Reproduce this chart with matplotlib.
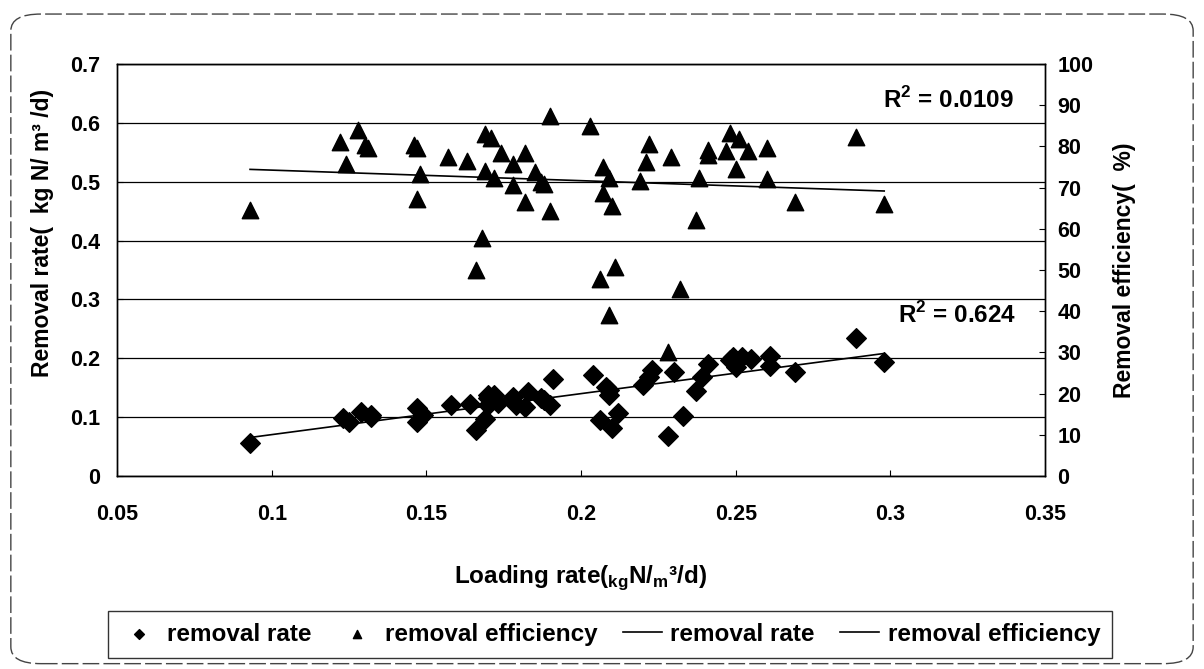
import matplotlib
matplotlib.use("Agg")
import matplotlib.pyplot as plt
from matplotlib.patches import FancyBboxPatch
import numpy as np

plt.rcParams['font.family'] = ['Liberation Sans', 'DejaVu Sans']
plt.rcParams['font.weight'] = 'bold'
plt.rcParams['axes.labelweight'] = 'bold'
plt.rcParams['mathtext.fontset'] = 'custom'
plt.rcParams['mathtext.rm'] = 'Liberation Sans:bold'

# removal rate (kg N/m3/d) vs loading rate
rate_x = [0.093, 0.123, 0.125, 0.129, 0.132, 0.132, 0.147, 0.147, 0.149, 0.158,
          0.164, 0.166, 0.169, 0.170, 0.170, 0.170, 0.172, 0.173, 0.178, 0.179,
          0.182, 0.183, 0.187, 0.188, 0.190, 0.191, 0.204, 0.208, 0.209, 0.209,
          0.206, 0.210, 0.212, 0.220, 0.222, 0.223, 0.230, 0.228, 0.233, 0.237,
          0.239, 0.241, 0.248, 0.249, 0.252, 0.250, 0.255, 0.261, 0.261, 0.269,
          0.289, 0.298]
rate_y = [0.056, 0.098, 0.091, 0.108, 0.101, 0.104, 0.115, 0.092, 0.104, 0.121,
          0.122, 0.078, 0.096, 0.138, 0.121, 0.132, 0.138, 0.124, 0.135, 0.121,
          0.118, 0.143, 0.132, 0.129, 0.121, 0.164, 0.172, 0.152, 0.138, 0.146,
          0.095, 0.081, 0.107, 0.155, 0.169, 0.180, 0.177, 0.068, 0.102, 0.145,
          0.169, 0.191, 0.197, 0.202, 0.202, 0.185, 0.198, 0.204, 0.187, 0.177,
          0.234, 0.194]

# removal efficiency (%) vs loading rate
eff_x = [0.093, 0.122, 0.124, 0.128, 0.130, 0.131, 0.146, 0.147, 0.148, 0.147,
         0.157, 0.163, 0.169, 0.169, 0.168, 0.166, 0.171, 0.172, 0.174, 0.178,
         0.182, 0.178, 0.185, 0.187, 0.188, 0.182, 0.190, 0.190, 0.203, 0.207,
         0.209, 0.207, 0.210, 0.222, 0.221, 0.219, 0.229, 0.237, 0.241, 0.241,
         0.238, 0.248, 0.251, 0.247, 0.254, 0.260, 0.250, 0.260, 0.269, 0.289,
         0.298, 0.211, 0.206, 0.232, 0.209, 0.228]
eff_y = [64.6, 81.1, 75.7, 84.1, 80.3, 79.6, 80.3, 79.5, 73.3, 67.2,
         77.5, 76.5, 83.0, 74.1, 57.7, 50.0, 82.0, 72.3, 78.3, 75.7,
         78.3, 70.6, 73.9, 71.4, 70.9, 66.6, 64.4, 87.4, 85.0, 75.1,
         72.3, 68.6, 65.5, 80.7, 76.3, 71.7, 77.4, 62.1, 79.1, 77.9,
         72.3, 83.3, 81.7, 79.0, 79.0, 79.5, 74.4, 72.0, 66.6, 82.4,
         66.0, 50.8, 47.7, 45.5, 39.1, 30.2]

r2_labels = ["R$^2$ = 0.624", "R$^2$ = 0.0109"]

fig = plt.figure(figsize=(12.04, 6.69), dpi=100)
ax = fig.add_axes([0.0972, 0.2885, 0.7708, 0.6158])
ax2 = ax.twinx()

# horizontal grid
ax.set_axisbelow(True)
ax.yaxis.grid(True, color='black', linewidth=0.9)

ax.scatter(rate_x, rate_y, marker='D', s=100, color='black', zorder=3, label='removal rate')
ax2.scatter(eff_x, eff_y, marker='^', s=140, color='black', zorder=3, label='removal efficiency')

# linear trend lines
xs = np.linspace(min(rate_x), max(rate_x), 50)
k, b = np.polyfit(rate_x, rate_y, 1)
l1, = ax.plot(xs, k * xs + b, color='black', linewidth=1.2, label='removal rate')
xs2 = np.linspace(min(eff_x), max(eff_x), 50)
k2, b2 = np.polyfit(eff_x, eff_y, 1)
l2, = ax2.plot(xs2, k2 * xs2 + b2, color='black', linewidth=1.2, label='removal efficiency')

ax.text(0.3025, 0.274, r2_labels[0], fontsize=17.5, va='center')
ax2.text(0.2976, 91.3, r2_labels[1], fontsize=17.5, va='center')

ax.set_xlim(0.05, 0.35)
ax.set_ylim(0, 0.7)
ax2.set_ylim(0, 100)
ax.set_xticks([0.05, 0.1, 0.15, 0.2, 0.25, 0.3, 0.35])
ax.set_xticklabels(['0.05', '0.1', '0.15', '0.2', '0.25', '0.3', '0.35'])
ax.set_yticks([0, 0.1, 0.2, 0.3, 0.4, 0.5, 0.6, 0.7])
ax.set_yticklabels(['0', '0.1', '0.2', '0.3', '0.4', '0.5', '0.6', '0.7'])
ax2.set_yticks(range(0, 101, 10))

for a in (ax, ax2):
    a.tick_params(direction='in', labelsize=15.5, length=4, width=0.8)
    for s in a.spines.values():
        s.set_linewidth(1.0)
ax.tick_params(axis='x', pad=20)
ax.tick_params(axis='y', pad=12)
ax2.tick_params(axis='y', pad=9)

ax.set_xlabel('Loading rate($_{\\mathrm{kg}}$N/$_{\\mathrm{m}}$³/d)', fontsize=17.5, labelpad=28)
ax.set_ylabel('Removal rate(  kg N/ m³ /d)', fontsize=16.5)
ax.yaxis.set_label_coords(-0.068, 0.59)
ax2.set_ylabel('Removal efficiency(  %)', fontsize=16.5, labelpad=14, rotation=90)

h = [ax.collections[0], ax2.collections[0], l1, l2]
leg = fig.legend(h, [x.get_label() for x in h], loc='center', bbox_to_anchor=(0.5066, 0.052),
                 ncol=4, fontsize=17.5, frameon=True, fancybox=False, edgecolor='black',
                 handlelength=1.6, handletextpad=0.35, columnspacing=1.05, markerscale=0.5,
                 borderpad=0.5)
leg.get_frame().set_linewidth(1.0)

# outer frame of the scanned chart
border = FancyBboxPatch((0.009, 0.008), 0.982, 0.971, boxstyle='round,pad=0,rounding_size=0.025',
                        transform=fig.transFigure, fill=False, edgecolor='#444444',
                        linewidth=1.0, linestyle=(0, (12, 3)))
fig.patches.append(border)

fig.savefig('out.png', dpi=100)
